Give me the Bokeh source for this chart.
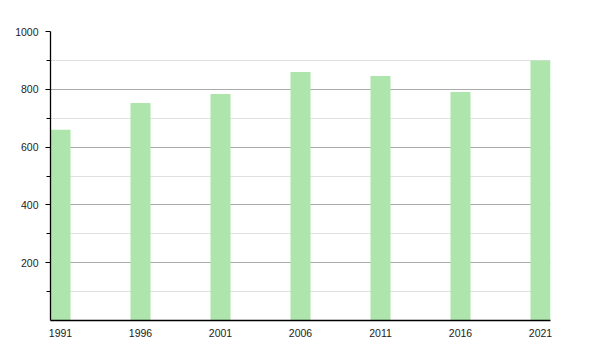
from bokeh.plotting import figure
from bokeh.models import FixedTicker, Range1d
from bokeh.embed import file_html
from bokeh.resources import INLINE

years = [1991, 1996, 2001, 2006, 2011, 2016, 2021]
population = [660, 753, 784, 860, 846, 791, 900]
y_major = [200, 400, 600, 800, 1000]
y_minor = [100, 300, 500, 700, 900]

bar_w = 1.25
p = figure(width=600, height=350, output_backend="svg", toolbar_location=None,
           x_range=Range1d(years[0] - bar_w / 2, years[-1] + bar_w / 2),
           y_range=Range1d(0, 1000))
p.min_border_left = 50
p.min_border_right = 50
p.min_border_top = 31
p.min_border_bottom = 30
p.outline_line_color = None
p.background_fill_color = "white"
p.border_fill_color = "white"

p.vbar(x=years, top=population, width=bar_w, bottom=0,
       fill_color="#aee5ad", line_color=None)

font = "Liberation Sans"
p.xaxis.ticker = FixedTicker(ticks=years)
p.xaxis.major_tick_line_color = None
p.xaxis.minor_tick_line_color = None
p.xaxis.major_label_standoff = 2
p.xaxis.axis_line_color = "black"
p.xaxis.axis_line_width = 1.3
p.xaxis.major_label_text_font = font
p.xaxis.major_label_text_font_size = "10.5px"
p.xaxis.major_label_text_color = "#222222"

p.yaxis.ticker = FixedTicker(ticks=y_major, minor_ticks=y_minor)
p.yaxis.axis_line_color = "black"
p.yaxis.axis_line_width = 1.3
p.yaxis.major_tick_in = 0
p.yaxis.major_tick_out = 5
p.yaxis.minor_tick_in = 0
p.yaxis.minor_tick_out = 4
p.yaxis.major_tick_line_color = "black"
p.yaxis.minor_tick_line_color = "black"
p.yaxis.major_label_standoff = 7
p.yaxis.major_label_text_font = font
p.yaxis.major_label_text_font_size = "10.5px"
p.yaxis.major_label_text_color = "#222222"

p.xgrid.grid_line_color = None
p.ygrid.grid_line_color = "#aaaaaa"
p.ygrid.grid_line_width = 1
p.ygrid.minor_grid_line_color = "#e0e0e0"
p.ygrid.minor_grid_line_width = 1

open("out.html", "w").write(file_html(p, INLINE))
